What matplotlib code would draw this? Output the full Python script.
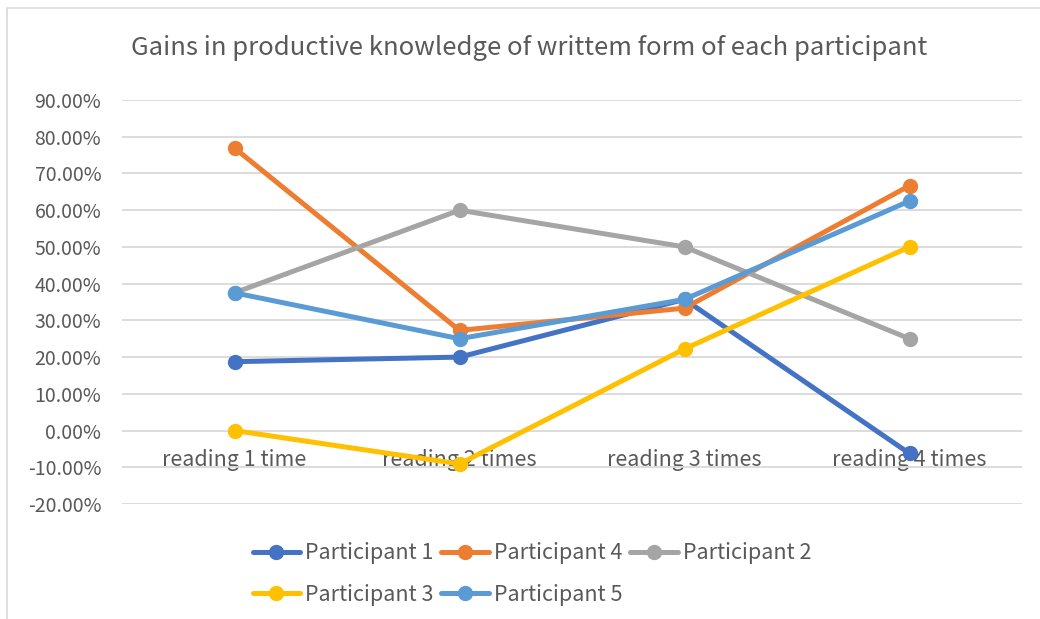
import matplotlib
matplotlib.use("Agg")
import matplotlib.pyplot as plt
from matplotlib.patches import Rectangle
from matplotlib.ticker import FuncFormatter, MultipleLocator

categories = ["reading 1 time", "reading 2 times", "reading 3 times", "reading 4 times"]
series_names = ["Participant 1", "Participant 4", "Participant 2", "Participant 3", "Participant 5"]
p1 = [18.75, 20.0, 35.71, -6.25]
p4 = [76.92, 27.27, 33.33, 66.67]
p2 = [37.5, 60.0, 50.0, 25.0]
p3 = [0.0, -9.09, 22.22, 50.0]
p5 = [37.5, 25.0, 35.71, 62.5]
colors = ["#4472C4", "#ED7D31", "#A5A5A5", "#FFC000", "#5B9BD5"]
title = "Gains in productive knowledge of writtem form of each participant"

plt.rcParams['font.family'] = ['Noto Sans CJK SC', 'DejaVu Sans']

fig = plt.figure(figsize=(10.40, 6.19), dpi=100)
fig.patches.append(Rectangle((7/1040, -0.01), 1.02, 1 - 8/619 + 0.01, transform=fig.transFigure,
                             fill=False, edgecolor="#D9D9D9", linewidth=1.2))
ax = fig.add_axes([122/1040, 1 - 504/619, 900/1040, 404/619])

x = list(range(len(categories)))
handles = {}
for name, vals, c in zip(series_names, [p1, p4, p2, p3, p5], colors):
    h, = ax.plot(x, vals, color=c, linewidth=3.6, marker='o', markersize=10,
                 solid_capstyle='round', label=name)
    handles[name] = h

ax.set_xlim(-0.5, 3.5)
ax.set_ylim(-20, 90)
ax.yaxis.set_major_locator(MultipleLocator(10))
ax.yaxis.set_major_formatter(FuncFormatter(lambda v, p: f"{v:.2f}%"))
ax.grid(axis='y', color="#D9D9D9", linewidth=1.3)
ax.set_axisbelow(True)
for s in ["left", "right", "top"]:
    ax.spines[s].set_visible(False)
ax.spines["bottom"].set_position(("data", 0))
ax.spines["bottom"].set_visible(False)
ax.set_xticks(x)
ax.set_xticklabels(categories)
ax.tick_params(axis='both', length=0, colors="#595959")
ax.tick_params(axis='x', pad=13, labelsize=15.5)
ax.tick_params(axis='y', pad=15, labelsize=14)

fig.text(529/1040, 1 - 48/619, title, ha='center', va='center', fontsize=18.5, color="#595959")

order = ["Participant 1", "Participant 3", "Participant 4", "Participant 5", "Participant 2"]
leg = fig.legend([handles[n] for n in order], order, ncol=3, loc='center',
                 bbox_to_anchor=(532/1040, 1 - 574/619), frameon=False, fontsize=15.5,
                 handlelength=2.2, handletextpad=0.25, columnspacing=0.35, labelspacing=0.9)
for t in leg.get_texts():
    t.set_color("#595959")

fig.savefig("out.png", dpi=100)
